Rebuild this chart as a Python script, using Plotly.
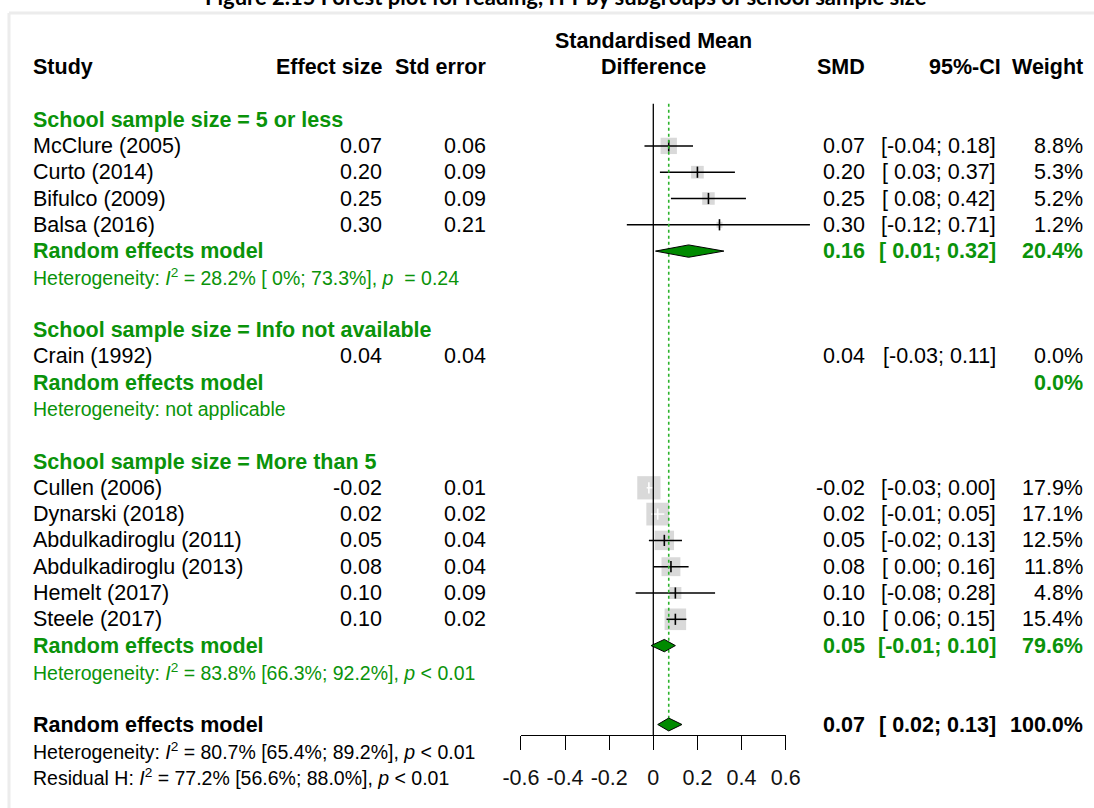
import math
import plotly.graph_objects as go

W, H = 1094, 808

# ---- study-level data ----
group_names = ["5 or less", "Info not available", "More than 5"]
study_group = [0, 0, 0, 0, 1, 2, 2, 2, 2, 2, 2]
studies = ["McClure (2005)", "Curto (2014)", "Bifulco (2009)", "Balsa (2016)",
           "Crain (1992)",
           "Cullen (2006)", "Dynarski (2018)", "Abdulkadiroglu (2011)",
           "Abdulkadiroglu (2013)", "Hemelt (2017)", "Steele (2017)"]
effect = [0.07, 0.20, 0.25, 0.30, 0.04, -0.02, 0.02, 0.05, 0.08, 0.10, 0.10]
std_err = [0.06, 0.09, 0.09, 0.21, 0.04, 0.01, 0.02, 0.04, 0.04, 0.09, 0.02]
ci_low = [-0.04, 0.03, 0.08, -0.12, -0.03, -0.03, -0.01, -0.02, 0.00, -0.08, 0.06]
ci_high = [0.18, 0.37, 0.42, 0.71, 0.11, 0.00, 0.05, 0.13, 0.16, 0.28, 0.15]
weight = [8.8, 5.3, 5.2, 1.2, 0.0, 17.9, 17.1, 12.5, 11.8, 4.8, 15.4]

# ---- subgroup random-effects summaries ----
sub_smd = [0.16, None, 0.05]
sub_low = [0.01, None, -0.01]
sub_high = [0.32, None, 0.10]
sub_weight = [20.4, 0.0, 79.6]
sub_het = [
    "Heterogeneity: <i>I</i><sup>2</sup> = 28.2% [ 0%; 73.3%], <i>p</i>  = 0.24",
    "Heterogeneity: not applicable",
    "Heterogeneity: <i>I</i><sup>2</sup> = 83.8% [66.3%; 92.2%], <i>p</i> &lt; 0.01",
]

# ---- overall random-effects summary ----
overall_smd, overall_low, overall_high, overall_weight = 0.07, 0.02, 0.13, 100.0
overall_het = [
    "Heterogeneity: <i>I</i><sup>2</sup> = 80.7% [65.4%; 89.2%], <i>p</i> &lt; 0.01",
    "Residual H: <i>I</i><sup>2</sup> = 77.2% [56.6%; 88.0%], <i>p</i> &lt; 0.01",
]

tick_vals = [-0.6, -0.4, -0.2, 0, 0.2, 0.4, 0.6]
tick_text = ["-0.6", "-0.4", "-0.2", "0", "0.2", "0.4", "0.6"]

title = "Figure 2.15 Forest plot for reading, ITT by subgroups of school sample size"

# ---- geometry ----
ROW0_PX, ROW_PX = 67.0, 26.3          # pixel of header row, row pitch
X0_PX, X_PX = 653.3, 220.6            # pixel of SMD = 0, pixels per SMD unit
FONT = "Liberation Sans, Arial, sans-serif"
FS, FS_HET = 21.5, 19.5
GREEN = "#0a930a"
DIAMOND = "#008a00"
BOX = "#d9d9d9"

def px_of_row(r):
    return ROW0_PX + ROW_PX * r

# row assignment
rows_study = []
rows_head, rows_rem, rows_het = [], [], []
r = 1
for g in range(len(group_names)):
    r += 1
    rows_head.append(r)
    for i, sg in enumerate(study_group):
        if sg == g:
            r += 1
            rows_study.append(r)
    r += 1
    rows_rem.append(r)
    r += 1
    rows_het.append(r)
    r += 1
row_overall = r + 1
rows_overall_het = [row_overall + 1, row_overall + 2]
row_axis = row_overall + 0.4
row_top = rows_head[0] - 0.6

fig = go.Figure()

# study boxes, area proportional to weight
box_size = [5.5 * math.sqrt(w) for w in weight]
vis = [i for i in range(len(studies)) if weight[i] > 0]
fig.add_trace(go.Scatter(
    x=[effect[i] for i in vis], y=[rows_study[i] for i in vis], mode="markers",
    marker=dict(symbol="square", size=[box_size[i] for i in vis], color=BOX,
                opacity=1, line=dict(width=0)),
    hoverinfo="skip", showlegend=False))

# confidence intervals: white when the interval sits inside its box
def inside(i):
    half = box_size[i] / 2 / X_PX
    return ci_low[i] >= effect[i] - half and ci_high[i] <= effect[i] + half

for colour, pick in (("black", False), ("white", True)):
    xs, ys, ex, ey = [], [], [], []
    for i in vis:
        if inside(i) != pick:
            continue
        xs += [ci_low[i], ci_high[i], None]
        ys += [rows_study[i], rows_study[i], None]
        ex.append(effect[i])
        ey.append(rows_study[i])
    if not ex:
        continue
    fig.add_trace(go.Scatter(x=xs, y=ys, mode="lines",
                             line=dict(color=colour, width=1.5),
                             hoverinfo="skip", showlegend=False))
    fig.add_trace(go.Scatter(x=ex, y=ey, mode="markers",
                             marker=dict(symbol="line-ns", size=8,
                                         line=dict(color=colour, width=1.6)),
                             hoverinfo="skip", showlegend=False))

# reference lines
fig.add_trace(go.Scatter(x=[0, 0], y=[row_top, row_axis], mode="lines",
                         line=dict(color="black", width=1.3),
                         hoverinfo="skip", showlegend=False))
fig.add_trace(go.Scatter(x=[overall_smd, overall_smd],
                         y=[row_top, row_overall - 0.25], mode="lines",
                         line=dict(color="#2cb42c", width=1.6, dash="dot"),
                         hoverinfo="skip", showlegend=False))

# summary diamonds
def diamond(est, lo, hi, row, h=0.245):
    fig.add_trace(go.Scatter(
        x=[lo, est, hi, est, lo], y=[row, row - h, row, row + h, row],
        mode="lines", fill="toself", fillcolor=DIAMOND,
        line=dict(color="black", width=1), hoverinfo="skip", showlegend=False))

for g in range(len(group_names)):
    if sub_smd[g] is not None and sub_weight[g] > 0:
        diamond(sub_smd[g], sub_low[g], sub_high[g], rows_rem[g], 0.235)
diamond(overall_smd, overall_low, overall_high, row_overall)

# invisible trace carrying the tick axis
fig.add_trace(go.Scatter(x=[tick_vals[0], tick_vals[-1]], y=[row_axis, row_axis],
                         xaxis="x2", yaxis="y", mode="markers",
                         marker=dict(opacity=0), hoverinfo="skip",
                         showlegend=False))

# ---- text ----
ann = []

def txt(xpx, row, text, anchor="left", size=FS, color="black", bold=False):
    if bold:
        text = "<b>" + text + "</b>"
    ann.append(dict(x=xpx / W, xref="paper", y=row, yref="y", text=text,
                    xanchor=anchor, yanchor="middle", showarrow=False,
                    font=dict(family=FONT, size=size, color=color)))

COL_STUDY, COL_ES, COL_SE = 31, 384, 488
COL_SMD, COL_CI, COL_W = 867, 998, 1085

def fmt_ci(lo, hi):
    return f"[{lo:5.2f}; {hi:.2f}]"

# header
txt(COL_STUDY, 0, "Study", bold=True)
txt(COL_ES, 0, "Effect size", "right", bold=True)
txt(COL_SE, 0, "Std error", "right", bold=True)
txt(X0_PX, -1, "Standardised Mean", "center", bold=True)
txt(X0_PX, 0, "Difference", "center", bold=True)
txt(COL_SMD, 0, "SMD", "right", bold=True)
txt(COL_CI + 5, 0, "95%-CI", "right", bold=True)
txt(COL_W, 0, "Weight", "right", bold=True)

for g, name in enumerate(group_names):
    txt(COL_STUDY, rows_head[g], "School sample size = " + name, color=GREEN, bold=True)
    txt(COL_STUDY, rows_rem[g], "Random effects model", color=GREEN, bold=True)
    txt(COL_STUDY, rows_het[g], sub_het[g], size=FS_HET, color=GREEN)
    if sub_smd[g] is not None:
        txt(COL_SMD, rows_rem[g], f"{sub_smd[g]:.2f}", "right", color=GREEN, bold=True)
        txt(COL_CI, rows_rem[g], fmt_ci(sub_low[g], sub_high[g]), "right",
            color=GREEN, bold=True)
    txt(COL_W, rows_rem[g], f"{sub_weight[g]:.1f}%", "right", color=GREEN, bold=True)

for i, s in enumerate(studies):
    rr = rows_study[i]
    txt(COL_STUDY, rr, s)
    txt(COL_ES, rr, f"{effect[i]:.2f}", "right")
    txt(COL_SE, rr, f"{std_err[i]:.2f}", "right")
    txt(COL_SMD, rr, f"{effect[i]:.2f}", "right")
    txt(COL_CI, rr, fmt_ci(ci_low[i], ci_high[i]), "right")
    txt(COL_W, rr, f"{weight[i]:.1f}%", "right")

txt(COL_STUDY, row_overall, "Random effects model", bold=True)
txt(COL_SMD, row_overall, f"{overall_smd:.2f}", "right", bold=True)
txt(COL_CI, row_overall, fmt_ci(overall_low, overall_high), "right", bold=True)
txt(COL_W, row_overall, f"{overall_weight:.1f}%", "right", bold=True)
for k, line in enumerate(overall_het):
    txt(COL_STUDY, rows_overall_het[k], line, size=FS_HET)

# figure caption, partly above the page edge
ann.append(dict(x=566 / W, xref="paper", y=1 - 12 / H, yref="paper",
                text="<b>" + title + "</b>", xanchor="center", yanchor="bottom",
                showarrow=False, font=dict(family="Lato, sans-serif", size=22,
                                           color="black")))

y_top_row = -ROW0_PX / ROW_PX
y_bot_row = (H - ROW0_PX) / ROW_PX

fig.update_layout(
    width=W, height=H,
    margin=dict(l=0, r=0, t=0, b=0, pad=0, autoexpand=False),
    paper_bgcolor="white", plot_bgcolor="rgba(0,0,0,0)",
    showlegend=False, annotations=ann,
    xaxis=dict(domain=[0, 1], range=[-X0_PX / X_PX, (W - X0_PX) / X_PX],
               visible=False, fixedrange=True, automargin=False),
    xaxis2=dict(domain=[(X0_PX + X_PX * tick_vals[0]) / W,
                        (X0_PX + X_PX * tick_vals[-1]) / W],
                range=[tick_vals[0], tick_vals[-1]], anchor="free",
                position=1 - px_of_row(row_axis) / H, automargin=False,
                showline=True, linecolor="black", linewidth=1.3,
                ticks="outside", ticklen=14, tickwidth=1.3, tickcolor="black",
                tickvals=tick_vals, ticktext=tick_text, ticklabelstandoff=9,
                showgrid=False, zeroline=False,
                tickfont=dict(family=FONT, size=FS, color="#111"),
                fixedrange=True),
    yaxis=dict(domain=[0, 1], range=[y_bot_row, y_top_row], visible=False,
               fixedrange=True, automargin=False),
    shapes=[
        dict(type="line", xref="paper", yref="paper", x0=9 / W, x1=1,
             y0=1 - 13 / H, y1=1 - 13 / H, line=dict(color="#ececec", width=3)),
        dict(type="line", xref="paper", yref="paper", x0=9 / W, x1=9 / W,
             y0=0, y1=1 - 13 / H, line=dict(color="#ececec", width=3)),
    ],
)

fig.write_html("out.html")
